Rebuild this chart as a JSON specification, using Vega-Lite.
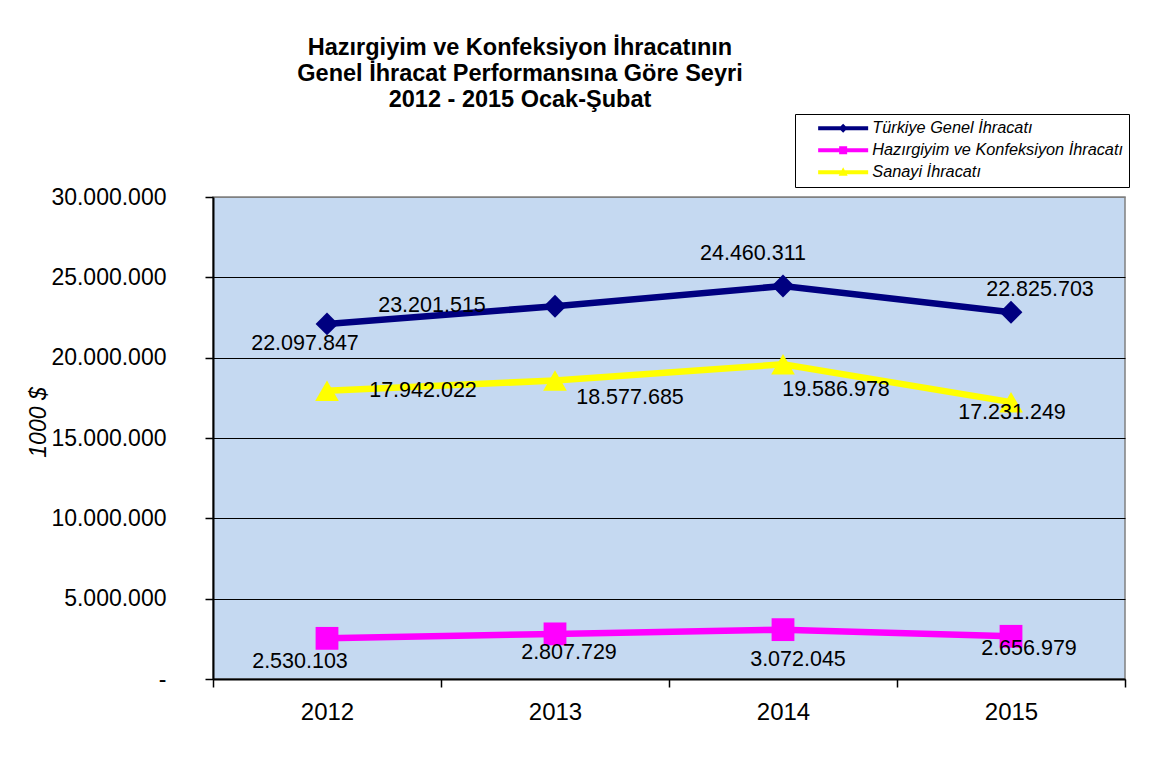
{
  "$schema": "https://vega.github.io/schema/vega-lite/v6.json",
  "width": 912,
  "height": 482,
  "autosize": {"type": "none"},
  "padding": {"left": 213, "top": 197, "right": 25, "bottom": 86},
  "background": "white",
  "config": {
    "locale": {"number": {"decimal": ",", "thousands": ".", "grouping": [3], "currency": ["", ""]}},
    "font": "Liberation Sans",
    "view": {"fill": "#C5D9F1", "stroke": "#808080", "strokeWidth": 1.5},
    "text": {"font": "Liberation Sans", "fontSize": 21.5, "baseline": "middle", "align": "center", "color": "black"},
    "point": {"filled": true, "opacity": 1, "size": 520},
    "legend": {
      "orient": "none", "legendX": 582, "legendY": -83,
      "fillColor": "white", "strokeColor": "black", "padding": 6,
      "labelFont": "Liberation Sans", "labelFontSize": 16.3, "labelFontStyle": "italic", "labelColor": "black",
      "symbolSize": 100, "symbolOffset": 14, "labelOffset": 41, "labelLimit": 400, "rowPadding": 5
    }
  },
  "title": {
    "text": ["Hazırgiyim ve Konfeksiyon İhracatının", "Genel İhracat Performansına Göre Seyri", "2012 - 2015 Ocak-Şubat"],
    "font": "Liberation Sans", "fontSize": 23.5, "fontWeight": "bold", "color": "black",
    "lineHeight": 26, "anchor": "middle", "frame": "group", "dx": -149, "dy": 8, "offset": 10
  },
  "data": {"values": [
    {"year": "2012", "series": "Türkiye Genel İhracatı", "value": 22097847},
    {"year": "2013", "series": "Türkiye Genel İhracatı", "value": 23201515},
    {"year": "2014", "series": "Türkiye Genel İhracatı", "value": 24460311},
    {"year": "2015", "series": "Türkiye Genel İhracatı", "value": 22825703},
    {"year": "2012", "series": "Hazırgiyim ve Konfeksiyon İhracatı", "value": 2530103},
    {"year": "2013", "series": "Hazırgiyim ve Konfeksiyon İhracatı", "value": 2807729},
    {"year": "2014", "series": "Hazırgiyim ve Konfeksiyon İhracatı", "value": 3072045},
    {"year": "2015", "series": "Hazırgiyim ve Konfeksiyon İhracatı", "value": 2656979},
    {"year": "2012", "series": "Sanayi İhracatı", "value": 17942022},
    {"year": "2013", "series": "Sanayi İhracatı", "value": 18577685},
    {"year": "2014", "series": "Sanayi İhracatı", "value": 19586978},
    {"year": "2015", "series": "Sanayi İhracatı", "value": 17231249}
  ]},
  "encoding": {
    "x": {
      "field": "year", "type": "ordinal",
      "scale": {"type": "band", "paddingInner": 0, "paddingOuter": 0},
      "axis": {
        "title": null, "tickBand": "extent", "labelAngle": 0,
        "domainColor": "black", "domainWidth": 2, "tickColor": "black", "tickWidth": 1.5, "tickSize": 8,
        "labelFontSize": 24, "labelColor": "black", "labelBaseline": "middle", "labelPadding": 25, "grid": false
      }
    },
    "y": {
      "field": "value", "type": "quantitative",
      "scale": {"domain": [0, 30000000], "nice": false},
      "axis": {
        "title": "1000 $", "titleFontStyle": "italic", "titleFontWeight": "normal", "titleFontSize": 23,
        "titleColor": "black", "titleAngle": 270, "titleX": -175, "titleY": 225,
        "titleAlign": "center", "titleBaseline": "middle",
        "values": [0, 5000000, 10000000, 15000000, 20000000, 25000000, 30000000],
        "format": ",d", "labelExpr": "datum.value == 0 ? '-' : datum.label",
        "labelFontSize": 23, "labelColor": "black", "labelPadding": 39,
        "tickSize": 8, "tickColor": "black", "tickWidth": 1.5,
        "domainColor": "black", "domainWidth": 2,
        "grid": true, "gridColor": {"condition": {"test": "datum.value == 30000000", "value": "#808080"}, "value": "black"}, "gridWidth": 1.2
      }
    }
  },
  "layer": [
    {
      "mark": {"type": "line", "strokeWidth": 6.5, "strokeJoin": "miter"},
      "encoding": {
        "color": {
          "field": "series", "type": "nominal",
          "scale": {"domain": ["Türkiye Genel İhracatı", "Hazırgiyim ve Konfeksiyon İhracatı", "Sanayi İhracatı"], "range": ["#000080", "#FF00FF", "#FFFF00"]},
          "legend": {
            "title": null,
            "encode": {"symbols": {"update": {
              "shape": {"signal": "datum.value == 'Türkiye Genel İhracatı' ? 'M-1,-0.4H9V0.4H-1Z M4,-0.9L4.9,0L4,0.9L3.1,0Z' : datum.value == 'Sanayi İhracatı' ? 'M-1,-0.4H9V0.4H-1Z M4,-1L4.9,0.7H3.1Z' : 'M-1,-0.4H9V0.4H-1Z M3.2,-0.8H4.8V0.8H3.2Z'"},
              "fill": {"scale": "color", "field": "value"},
              "fillOpacity": {"value": 1},
              "stroke": {"value": "transparent"},
              "strokeWidth": {"value": 0}
            }}}
          }
        }
      }
    },
    {
      "transform": [{"filter": "datum.series == 'Türkiye Genel İhracatı'"}],
      "mark": {"type": "point", "shape": "diamond"},
      "encoding": {"color": {"field": "series", "type": "nominal"}}
    },
    {
      "transform": [{"filter": "datum.series == 'Hazırgiyim ve Konfeksiyon İhracatı'"}],
      "mark": {"type": "point", "shape": "square"},
      "encoding": {"color": {"field": "series", "type": "nominal"}}
    },
    {
      "transform": [{"filter": "datum.series == 'Sanayi İhracatı'"}],
      "mark": {"type": "point", "shape": "triangle-up", "size": 560},
      "encoding": {"color": {"field": "series", "type": "nominal"}}
    },
    {"transform": [{"filter": "datum.series == 'Türkiye Genel İhracatı' && datum.year == '2012'"}], "mark": {"type": "text", "dx": -22, "dy": 20}, "encoding": {"text": {"field": "value", "type": "quantitative", "format": ",d"}}},
    {"transform": [{"filter": "datum.series == 'Türkiye Genel İhracatı' && datum.year == '2013'"}], "mark": {"type": "text", "dx": -123, "dy": 0}, "encoding": {"text": {"field": "value", "type": "quantitative", "format": ",d"}}},
    {"transform": [{"filter": "datum.series == 'Türkiye Genel İhracatı' && datum.year == '2014'"}], "mark": {"type": "text", "dx": -30, "dy": -32}, "encoding": {"text": {"field": "value", "type": "quantitative", "format": ",d"}}},
    {"transform": [{"filter": "datum.series == 'Türkiye Genel İhracatı' && datum.year == '2015'"}], "mark": {"type": "text", "dx": 29, "dy": -22}, "encoding": {"text": {"field": "value", "type": "quantitative", "format": ",d"}}},
    {"transform": [{"filter": "datum.series == 'Sanayi İhracatı' && datum.year == '2012'"}], "mark": {"type": "text", "dx": 96, "dy": 0}, "encoding": {"text": {"field": "value", "type": "quantitative", "format": ",d"}}},
    {"transform": [{"filter": "datum.series == 'Sanayi İhracatı' && datum.year == '2013'"}], "mark": {"type": "text", "dx": 75, "dy": 17}, "encoding": {"text": {"field": "value", "type": "quantitative", "format": ",d"}}},
    {"transform": [{"filter": "datum.series == 'Sanayi İhracatı' && datum.year == '2014'"}], "mark": {"type": "text", "dx": 53, "dy": 26}, "encoding": {"text": {"field": "value", "type": "quantitative", "format": ",d"}}},
    {"transform": [{"filter": "datum.series == 'Sanayi İhracatı' && datum.year == '2015'"}], "mark": {"type": "text", "dx": 1, "dy": 11}, "encoding": {"text": {"field": "value", "type": "quantitative", "format": ",d"}}},
    {"transform": [{"filter": "datum.series == 'Hazırgiyim ve Konfeksiyon İhracatı' && datum.year == '2012'"}], "mark": {"type": "text", "dx": -27, "dy": 24}, "encoding": {"text": {"field": "value", "type": "quantitative", "format": ",d"}}},
    {"transform": [{"filter": "datum.series == 'Hazırgiyim ve Konfeksiyon İhracatı' && datum.year == '2013'"}], "mark": {"type": "text", "dx": 14, "dy": 19}, "encoding": {"text": {"field": "value", "type": "quantitative", "format": ",d"}}},
    {"transform": [{"filter": "datum.series == 'Hazırgiyim ve Konfeksiyon İhracatı' && datum.year == '2014'"}], "mark": {"type": "text", "dx": 15, "dy": 30}, "encoding": {"text": {"field": "value", "type": "quantitative", "format": ",d"}}},
    {"transform": [{"filter": "datum.series == 'Hazırgiyim ve Konfeksiyon İhracatı' && datum.year == '2015'"}], "mark": {"type": "text", "dx": 18, "dy": 13}, "encoding": {"text": {"field": "value", "type": "quantitative", "format": ",d"}}}
  ]
}
